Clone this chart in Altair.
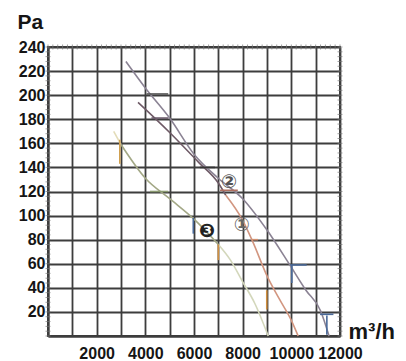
import altair as alt
import pandas as pd

# ---- axis values ----
x_grid = [0, 1000, 2000, 3000, 4000, 5000, 6000, 7000, 8000, 9000, 10000, 11000, 12000]
y_grid = [0, 20, 40, 60, 80, 100, 120, 140, 160, 180, 200, 220, 240]
minor_x = list(range(0, 12001, 200))
minor_y = list(range(0, 241, 4))

# ---- curves ----
c2_x = [3200, 4000, 5000, 6000, 7000, 8000, 9000, 10000, 10600, 11200, 11550]
c2_y = [228, 206, 181, 151, 131, 114, 88, 57, 38, 21, 0]

c1a_x = [3700, 5000, 6200, 7000, 7300]
c1a_y = [194, 169, 144, 127, 117]
c1b_x = [7300, 8000, 8400, 9000, 9500, 10000, 10280]
c1b_y = [117, 96, 79, 50, 31, 13, 0]

c3a_x = [2700, 3000]
c3a_y = [170, 159]
c3b_x = [3000, 4000, 5000, 6000, 7000]
c3b_y = [159, 131, 114, 97, 76]
c3c_x = [7000, 7500, 8000, 8500, 9050]
c3c_y = [76, 63, 45, 27, 0]

curve_names = ["c2", "c1a", "c1b", "c3a", "c3b", "c3c"]
curve_colors = ["#8b8394", "#6e5a66", "#d29680", "#e3dcb8", "#a3a886", "#d3d7bb"]
curve_xs = [c2_x, c1a_x, c1b_x, c3a_x, c3b_x, c3c_x]
curve_ys = [c2_y, c1a_y, c1b_y, c3a_y, c3b_y, c3c_y]

# ---- operating-point marker segments ----
seg_x1 = [4050, 4250, 6240, 4190, 7070, 8370, 9950, 11180, 2950, 5970, 7000, 8990, 10020, 11460]
seg_x2 = [4940, 4940, 6860, 4940, 7800, 8630, 10630, 11730, 2950, 5970, 7000, 8990, 10020, 11460]
seg_y1 = [201, 181, 140, 120, 121, 80, 59, 18, 163, 98, 76, 38, 59, 17]
seg_y2 = [201, 181, 140, 120, 121, 80, 59, 18, 143, 85, 63, 22, 44, 1]
seg_color = ["#555555", "#6a5a6a", "#333333", "#8a9a70", "#b07060", "#d09070", "#4a6a9a",
             "#4a6a9a", "#d0a050", "#4a6a9a", "#d09040", "#d09040", "#4a6a9a", "#4a6a9a"]

# ---- curve labels ----
lab_text = ["②", "①", "❸"]
lab_x = [7440, 7960, 6540]
lab_y = [128, 92, 87]
lab_color = ["#555555", "#666666", "#222222"]
lab_size = [19, 19, 19]

rows = []
for n, c, xs, ys in zip(curve_names, curve_colors, curve_xs, curve_ys):
    for i, (xv, yv) in enumerate(zip(xs, ys)):
        rows.append({"name": n, "color": c, "x": xv, "y": yv, "o": i})
curves = pd.DataFrame(rows)

segs = pd.DataFrame({"x": seg_x1, "x2": seg_x2, "y": seg_y1, "y2": seg_y2, "color": seg_color})
labels = pd.DataFrame({"t": lab_text, "x": lab_x, "y": lab_y, "color": lab_color, "size": lab_size})

top_ticks = pd.DataFrame({"x": minor_x, "y": [240] * len(minor_x)})
right_ticks = pd.DataFrame({"x": [12000] * len(minor_y), "y": minor_y})
left_ticks = pd.DataFrame({"x": [0] * len(minor_y), "y": minor_y})

X = alt.X("x:Q", scale=alt.Scale(domain=[0, 12000], nice=False, zero=False),
          axis=alt.Axis(values=x_grid,
                        labelExpr="datum.value > 0 && datum.value % 2000 == 0 ? format(datum.value, 'd') : ''",
                        labelOverlap=False, labelFlush=False, labelBound=False,
                        title="m³/h", titleX=300, titleY=2, titleAlign="left",
                        titleBaseline="alphabetic", titleFontSize=22, labelPadding=9))
Y = alt.Y("y:Q", scale=alt.Scale(domain=[0, 240], nice=False, zero=False),
          axis=alt.Axis(values=y_grid,
                        labelExpr="datum.value > 0 ? datum.value : ''",
                        labelOverlap=False, labelFlush=False,
                        title="Pa", titleAngle=0, titleX=-31, titleY=-19, titleAlign="left",
                        titleBaseline="alphabetic", titleFontSize=21, labelPadding=3))

base_curves = alt.Chart(curves).mark_line(strokeWidth=1.6, interpolate="monotone").encode(
    x=X, y=Y, detail="name:N", order="o:Q", color=alt.Color("color:N", scale=None)
)
seg_layer = alt.Chart(segs).mark_rule(strokeWidth=1.6).encode(
    x=X, y=Y, x2="x2:Q", y2="y2:Q", color=alt.Color("color:N", scale=None)
)
lab_layer = alt.Chart(labels).mark_text(font="DejaVu Sans", fontWeight="bold").encode(
    x=X, y=Y, text="t:N", color=alt.Color("color:N", scale=None),
    size=alt.Size("size:Q", scale=None)
)
tick_top = alt.Chart(top_ticks).mark_tick(orient="vertical", size=5, thickness=1, color="#777777").encode(x=X, y=Y)
tick_right = alt.Chart(right_ticks).mark_tick(orient="horizontal", size=5, thickness=1, color="#777777").encode(x=X, y=Y)
tick_left = alt.Chart(left_ticks).mark_tick(orient="horizontal", size=5, thickness=1, color="#777777").encode(x=X, y=Y)

chart = alt.layer(tick_top, tick_right, tick_left, base_curves, seg_layer, lab_layer).properties(
    width=292, height=289,
    autosize=alt.AutoSizeParams(type="none"),
    padding={"left": 40, "top": 39, "right": 58, "bottom": 25},
).configure_axis(
    grid=True, gridColor="#3d3d3d", gridWidth=1.8, gridOpacity=1,
    domainColor="#3d3d3d", domainWidth=2, ticks=False,
    labelFont="Liberation Sans", labelFontWeight="bold", labelFontSize=16, labelColor="#151515",
    titleFont="Liberation Sans", titleFontWeight="bold", titleColor="#151515",
).configure_view(stroke="#3d3d3d", strokeWidth=2)

chart.save("out.html", embed_options={"renderer": "svg", "actions": False})
